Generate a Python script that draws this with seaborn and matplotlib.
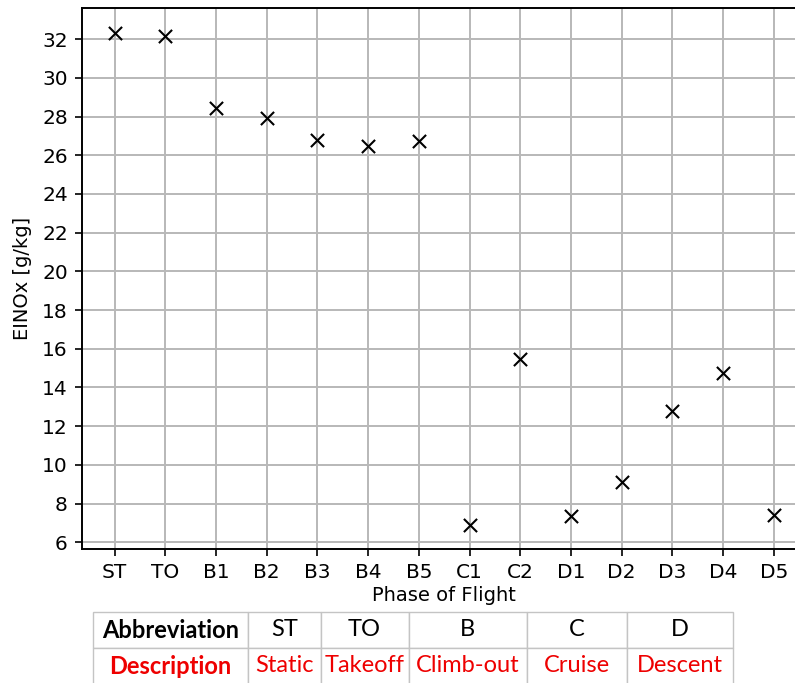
import matplotlib
matplotlib.use("Agg")
import matplotlib.pyplot as plt
import seaborn as sns
import pandas as pd

# EINOx per phase of flight
phases = ["ST", "TO", "B1", "B2", "B3", "B4", "B5", "C1", "C2", "D1", "D2", "D3", "D4", "D5"]
einox = [32.32, 32.15, 28.42, 27.90, 26.80, 26.49, 26.73, 6.91, 15.45, 7.36, 9.13, 12.80, 14.73, 7.41]

# Legend table for the phase abbreviations
table_abbrev = ["Abbreviation", "ST", "TO", "B", "C", "D"]
table_desc = ["Description", "Static", "Takeoff", "Climb-out", "Cruise", "Descent"]

df = pd.DataFrame({"phase": phases, "einox": einox})

fig = plt.figure(figsize=(7.95, 6.83), dpi=100)
ax = fig.add_axes([0.1028, 0.1958, 0.9119, 0.7920])

sns.scatterplot(data=df, x="phase", y="einox", marker="x", color="black",
                s=90, linewidth=1.5, ax=ax, zorder=3)

ax.grid(True, color="#b8b8b8", linewidth=1.4, zorder=0)
ax.set_axisbelow(True)
ax.set_yticks(range(6, 33, 2))
ax.tick_params(axis="both", labelsize=14.5, length=5, width=1.2, pad=5)
for sp in ax.spines.values():
    sp.set_linewidth(1.4)
ax.set_xlabel("Phase of Flight", fontsize=14, labelpad=3)
ax.set_ylabel("EINOx [g/kg]", fontsize=14, labelpad=7)

# Abbreviation / description table below the chart
left, right = 93, 733
tax = fig.add_axes([left / 795, (683 - 684) / 683, (right - left) / 795, 72 / 683])
tax.axis("off")
bounds = [left, 248, 320.5, 408.5, 526.5, 626.5, right]
widths = [(bounds[i + 1] - bounds[i]) / (right - left) for i in range(len(bounds) - 1)]
tbl = tax.table(cellText=[table_abbrev, table_desc], colWidths=widths,
                cellLoc="center", bbox=[0, 0, 1, 1])
tbl.auto_set_font_size(False)
for (r, c), cell in tbl.get_celld().items():
    cell.set_edgecolor("#c4c4c4")
    cell.set_linewidth(1.0)
    txt = cell.get_text()
    txt.set_fontfamily("Lato")
    txt.set_fontsize(17)
    txt.set_color("black" if r == 0 else "#ee0000")
    if c == 0:
        txt.set_fontweight("bold")

fig.savefig("out.png", dpi=100)
